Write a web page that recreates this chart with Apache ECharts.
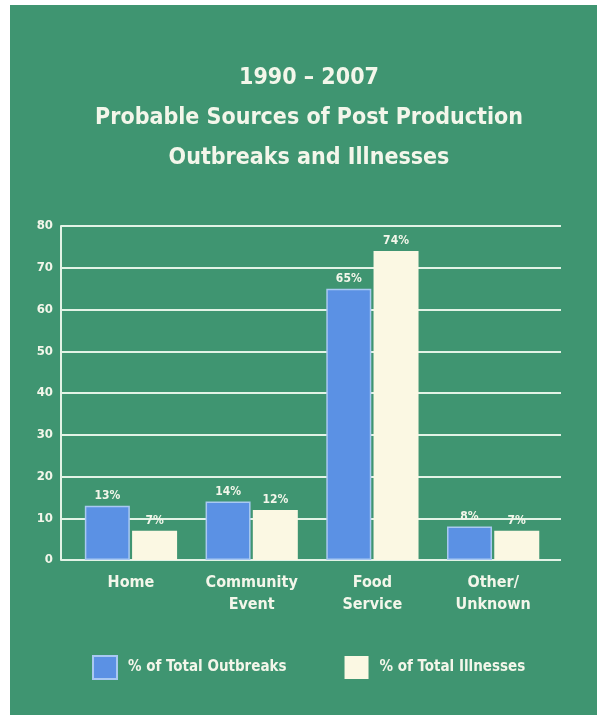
<!DOCTYPE html>
<html>
<head>
<meta charset="utf-8">
<script src="https://cdn.jsdelivr.net/npm/echarts@6/dist/echarts.min.js"></script>
<style>
  html, body { margin: 0; padding: 0; background: #ffffff; }
  #chart { width: 597px; height: 715px; }
</style>
</head>
<body>
<div id="chart"></div>
<script>
// Source categories and percentage shares
const categories = ['Home', 'Community\nEvent', 'Food\nService', 'Other/\nUnknown'];
const outbreaks = [13, 14, 65, 8];
const illnesses = [7, 12, 74, 7];
const seriesNames = ['% of Total Outbreaks', '% of Total Illnesses'];
const titleLines = ['1990 \u2013 2007', 'Probable Sources of Post Production', 'Outbreaks and Illnesses'];
const yMin = 0, yMax = 80, yStep = 10;

const FONT = "'DejaVu Sans Condensed', 'Liberation Sans Narrow', sans-serif";
const PANEL = '#3f9571';
const TEXT = '#f3f6ea';
const GRIDLINE = '#e2f3e6';
const BLUE = '#5b91e4';
const CREAM = '#fbf8e3';

const chart = echarts.init(document.getElementById('chart'), null, { renderer: 'canvas' });

chart.setOption({
  backgroundColor: '#ffffff',
  animation: false,
  graphic: [
    { type: 'rect', z: -10, shape: { x: 10, y: 5, width: 587, height: 710 }, style: { fill: PANEL } }
  ],
  title: {
    text: titleLines.join('\n'),
    left: 304,
    textAlign: 'center',
    top: 53,
    textStyle: { color: TEXT, fontFamily: FONT, fontWeight: 'bold', fontSize: 23, lineHeight: 40 }
  },
  legend: {
    data: seriesNames,
    icon: 'rect',
    left: 87,
    top: 650,
    itemWidth: 24,
    itemHeight: 23,
    itemGap: 58,
    textStyle: { color: TEXT, fontFamily: FONT, fontWeight: 'bold', fontSize: 15, padding: [0, 0, 0, 6] }
  },
  grid: [
    // bars
    { left: 70.6, right: 43.5, top: 226, bottom: 155 },
    // value axis with gridlines
    { left: 61, right: 36, top: 226, bottom: 155 }
  ],
  xAxis: [
    {
      type: 'category', gridIndex: 0, data: categories,
      axisLine: { show: false }, axisTick: { show: false },
      axisLabel: { interval: 0, color: TEXT, fontFamily: FONT, fontWeight: 'bold', fontSize: 16, lineHeight: 22, margin: 12 }
    },
    { type: 'value', gridIndex: 1, show: false, min: 0, max: 1 }
  ],
  yAxis: [
    { type: 'value', gridIndex: 0, min: yMin, max: yMax, interval: yStep, show: false },
    {
      type: 'value', gridIndex: 1, min: yMin, max: yMax, interval: yStep,
      axisLine: { show: true, lineStyle: { color: GRIDLINE, width: 2 } },
      axisTick: { show: false },
      splitLine: { show: true, lineStyle: { color: GRIDLINE, width: 2 } },
      axisLabel: { color: TEXT, fontFamily: FONT, fontWeight: 'bold', fontSize: 13, margin: 8 }
    }
  ],
  series: [
    {
      name: seriesNames[0], type: 'bar', xAxisIndex: 0, yAxisIndex: 0,
      data: outbreaks, barWidth: 45, barGap: '5%',
      itemStyle: { color: BLUE, borderColor: '#a9c9f2', borderWidth: 1.5 },
      label: { show: true, position: 'top', distance: 4, formatter: '{c}%', color: TEXT, fontFamily: FONT, fontWeight: 'bold', fontSize: 12 }
    },
    {
      name: seriesNames[1], type: 'bar', xAxisIndex: 0, yAxisIndex: 0,
      data: illnesses, barWidth: 45, barGap: '5%',
      itemStyle: { color: CREAM },
      label: { show: true, position: 'top', distance: 4, formatter: '{c}%', color: TEXT, fontFamily: FONT, fontWeight: 'bold', fontSize: 12 }
    }
  ]
});
</script>
</body>
</html>
